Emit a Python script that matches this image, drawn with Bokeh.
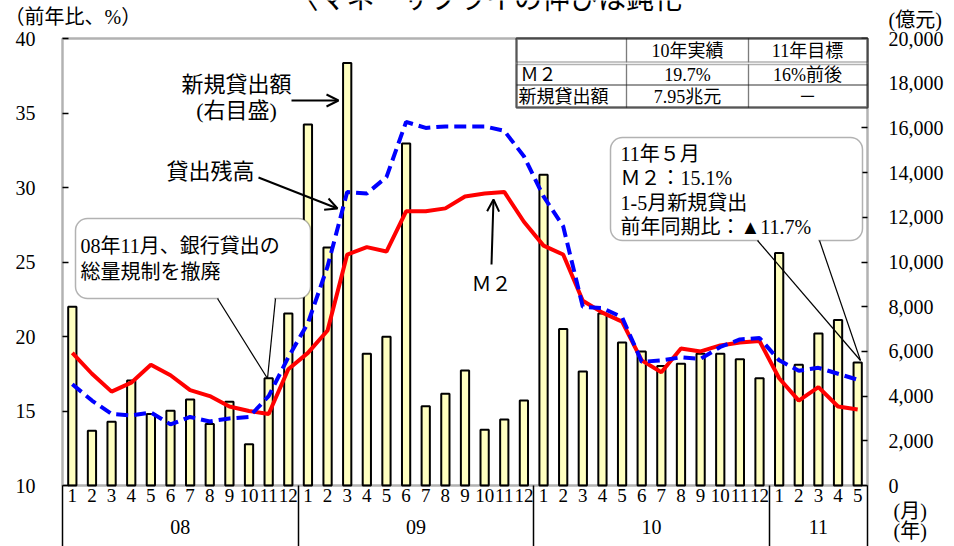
from bokeh.plotting import figure
from bokeh.models import (Range1d, LinearAxis, FixedTicker, NumeralTickFormatter,
                          Label, BoxAnnotation, Arrow, OpenHead)
from bokeh.embed import file_html
from bokeh.resources import INLINE

# ---------------- data ----------------
month_labels = [1, 2, 3, 4, 5, 6, 7, 8, 9, 10, 11, 12,
                1, 2, 3, 4, 5, 6, 7, 8, 9, 10, 11, 12,
                1, 2, 3, 4, 5, 6, 7, 8, 9, 10, 11, 12,
                1, 2, 3, 4, 5]
year_labels = ["08", "09", "10", "11"]
year_centers = [5.5, 17.5, 29.5, 38]
year_bounds = [-0.5, 11.5, 23.5, 35.5, 40.5]

# new loans (100 million yuan, right axis)
new_loans = [8000, 2450, 2850, 4700, 3200, 3350, 3850, 2750, 3750, 1850, 4800, 7700,
             16150, 10650, 18900, 5900, 6650, 15300, 3550, 4100, 5150, 2500, 2950, 3800,
             13900, 7000, 5100, 7700, 6400, 6000, 5350, 5450, 5900, 5900, 5650, 4800,
             10400, 5400, 6800, 7400, 5500]
# M2 growth (% yoy, left axis)
m2 = [18.9, 17.5, 16.3, 16.9, 18.1, 17.4, 16.4, 16.0, 15.3, 15.0, 14.8, 17.8,
      18.9, 20.4, 25.5, 26.0, 25.7, 28.4, 28.4, 28.6, 29.4, 29.6, 29.7, 27.7,
      26.1, 25.5, 22.4, 21.6, 21.0, 18.4, 17.6, 19.2, 19.0, 19.4, 19.6, 19.7,
      17.2, 15.7, 16.6, 15.3, 15.1]
# loan balance growth (% yoy, left axis)
loan_bal = [16.8, 15.7, 14.8, 14.7, 14.9, 14.1, 14.6, 14.3, 14.5, 14.6, 16.0, 18.6,
            20.9, 24.7, 29.7, 29.6, 30.7, 34.4, 34.0, 34.1, 34.1, 34.1, 33.8, 32.1,
            29.4, 27.4, 22.0, 21.9, 21.3, 18.3, 18.4, 18.6, 18.5, 19.3, 19.8, 19.9,
            18.4, 17.7, 17.9, 17.5, 17.1]

left_ticks = [10, 15, 20, 25, 30, 35, 40]
right_ticks = [0, 2000, 4000, 6000, 8000, 10000, 12000, 14000, 16000, 18000, 20000]

idx = list(range(len(new_loans)))

SERIF = "Liberation Serif, Noto Sans CJK JP"
CJK = "Noto Sans CJK JP"

# ---------------- geometry (page pixels of the plot box) ----------------
W, H = 954, 546
PL, PR, PT, PB = 62.0, 867.0, 38.0, 485.0
XMIN, XMAX = -0.5, 40.5
YMIN, YMAX = 10.0, 40.0
LMIN, LMAX = 0.0, 20000.0

dx = (PR - PL) / (XMAX - XMIN)
dy = (PB - PT) / (YMAX - YMIN)
dl = (PB - PT) / (LMAX - LMIN)

x_range = Range1d(XMIN - PL / dx, XMAX + (W - PR) / dx)
y_range = Range1d(YMIN - (H - PB) / dy, YMAX + PT / dy)
l_range = Range1d(LMIN - (H - PB) / dl, LMAX + PT / dl)


def X(px):
    return x_range.start + px / dx


def Y(py):
    return y_range.end - py / dy


# ---------------- figure: frame covers the whole canvas ----------------
p = figure(width=W, height=H, x_range=x_range, y_range=y_range,
           output_backend="svg", toolbar_location=None,
           x_axis_location=None, y_axis_location=None,
           min_border_left=0, min_border_right=0, min_border_top=0, min_border_bottom=0)
p.title.visible = False
p.extra_y_ranges = {"loans": l_range}
p.xgrid.visible = False
p.ygrid.visible = False
p.outline_line_color = None
p.background_fill_color = "white"
p.border_fill_color = "white"

axis_font = "Liberation Serif"

left = LinearAxis(ticker=FixedTicker(ticks=left_ticks), fixed_location=XMIN,
                  major_tick_in=6, major_tick_out=0, minor_tick_line_color=None,
                  axis_line_color=None, major_tick_line_color="black", major_tick_line_width=1.5,
                  major_label_standoff=27, major_label_text_font=axis_font,
                  major_label_text_font_size="20px", major_label_text_color="black")
p.add_layout(left, "left")

right = LinearAxis(y_range_name="loans", ticker=FixedTicker(ticks=right_ticks),
                   fixed_location=XMAX, formatter=NumeralTickFormatter(format="0,0"),
                   major_tick_in=6, major_tick_out=0, minor_tick_line_color=None,
                   axis_line_color=None, major_tick_line_color="black", major_tick_line_width=1.5,
                   major_label_standoff=21, major_label_text_font=axis_font,
                   major_label_text_font_size="20px", major_label_text_color="black")
p.add_layout(right, "right")

month_axis = LinearAxis(ticker=FixedTicker(ticks=idx), fixed_location=YMIN,
                        major_label_overrides={i: str(m) for i, m in zip(idx, month_labels)},
                        major_tick_in=0, major_tick_out=0, minor_tick_line_color=None,
                        major_tick_line_color=None, axis_line_color=None,
                        major_label_standoff=3, major_label_text_font=axis_font,
                        major_label_text_font_size="19px", major_label_text_color="black")
p.add_layout(month_axis, "below")

year_axis = LinearAxis(ticker=FixedTicker(ticks=year_centers), fixed_location=YMIN,
                       major_label_overrides={c: y for c, y in zip(year_centers, year_labels)},
                       major_tick_in=0, major_tick_out=0, minor_tick_line_color=None,
                       major_tick_line_color=None, axis_line_color=None,
                       major_label_standoff=34, major_label_text_font=axis_font,
                       major_label_text_font_size="20px", major_label_text_color="black")
p.add_layout(year_axis, "below")

# year separators: long outward ticks at the year boundaries
sep_axis = LinearAxis(ticker=FixedTicker(ticks=year_bounds), fixed_location=YMIN,
                      major_label_overrides={b: "" for b in year_bounds},
                      major_tick_in=0, major_tick_out=int(H - PB), minor_tick_line_color=None,
                      major_tick_line_color="black", major_tick_line_width=1.5,
                      axis_line_color=None, major_label_text_font_size="1px")
p.add_layout(sep_axis, "below")

# ---------------- glyphs ----------------
p.vbar(x=idx, top=new_loans, width=0.42, bottom=0, y_range_name="loans",
       fill_color="#FFFFC0", line_color="black", line_width=2)
p.line(idx, m2, line_color="#FF0000", line_width=4)
p.line(idx, loan_bal, line_color="#0000FF", line_width=4, line_dash="12 6")


# ---------------- annotations ----------------
def label(txt, px, py, size="20px", align="left", font=SERIF):
    p.add_layout(Label(x=X(px), y=Y(py), text=txt, text_font=font, text_font_size=size,
                       text_align=align, text_baseline="middle", text_color="black"))


def box(x0, y0, x1, y1, lw=1.2, radius=0, fill="white", fill_alpha=1.0, line="black"):
    p.add_layout(BoxAnnotation(left=X(x0), right=X(x1), top=Y(y0), bottom=Y(y1),
                               fill_color=fill, fill_alpha=fill_alpha, line_color=line,
                               line_width=lw, border_radius=radius))


def seg(x0, y0, x1, y1, lw=1.2, head=None):
    p.add_layout(Arrow(end=head, x_start=X(x0), y_start=Y(y0), x_end=X(x1), y_end=Y(y1),
                       line_color="black", line_width=lw))


# plot box border
p.add_layout(BoxAnnotation(left=XMIN, right=XMAX, bottom=YMIN, top=YMAX, fill_color=None,
                           fill_alpha=0, line_color="black", line_width=2.5))

# table
cols = [516, 626, 748, 867]
box(516, 38, 867, 107, lw=2.5)
for r0, r1 in [(38, 61.5), (64, 84.5), (84.5, 107)]:
    for c0, c1 in zip(cols[:-1], cols[1:]):
        box(c0, r0, c1, r1, lw=1.3, fill=None, fill_alpha=0)
box(516, 38, 867, 107, lw=2.5, fill=None, fill_alpha=0)
label("10年実績", 687, 50, size="18px", align="center")
label("11年目標", 807, 50, size="18px", align="center")
label("Ｍ２", 520, 74, size="18px")
label("19.7%", 687, 74, size="18px", align="center")
label("16%前後", 807, 74, size="18px", align="center")
label("新規貸出額", 518, 96, size="18px")
label("7.95兆元", 687, 96, size="18px", align="center")
label("－", 807, 96, size="18px", align="center")

# callout: 08年11月
box(75, 218, 310, 298, lw=1.5, radius=12)
box(218.5, 296.5, 273.5, 299.8, lw=0, line=None)
seg(217, 298, 267, 378)
seg(275, 298, 267, 378)
label("08年11月、銀行貸出の", 80, 245)
label("総量規制を撤廃", 80, 271)

# callout: 11年5月
box(610, 137, 862, 240, lw=1.5, radius=12)
box(758.5, 238.5, 817.5, 241.8, lw=0, line=None)
seg(757, 240, 860, 360)
seg(819, 240, 860, 360)
label("11年５月", 620, 153)
label("Ｍ２：15.1%", 620, 177)
label("1-5月新規貸出", 620, 202)
label("前年同期比：▲11.7%", 620, 226)

# series labels with arrows
label("新規貸出額", 236, 84, size="22px", align="center")
label("(右目盛)", 236, 110, size="22px", align="center")
seg(291, 100, 338, 100, lw=2, head=OpenHead(size=12, line_width=2, line_color="black"))
label("貸出残高", 210, 171, size="22px", align="center")
seg(258, 177, 337, 208, lw=2, head=OpenHead(size=12, line_width=2, line_color="black"))
label("Ｍ２", 491, 283, align="center")
seg(491, 264, 493, 199, lw=2, head=OpenHead(size=12, line_width=2, line_color="black"))

# texts outside the plot box (the title is cut off at the top, as in the source)
label("〈マネーサプライの伸びは鈍化", 290, -4, size="28px", font=CJK)
label("（前年比、%）", 4, 16)
label("(億元)", 888, 19)
label("(月)", 893, 510)
label("(年)", 893, 530)

open("out.html", "w").write(file_html(p, INLINE))
